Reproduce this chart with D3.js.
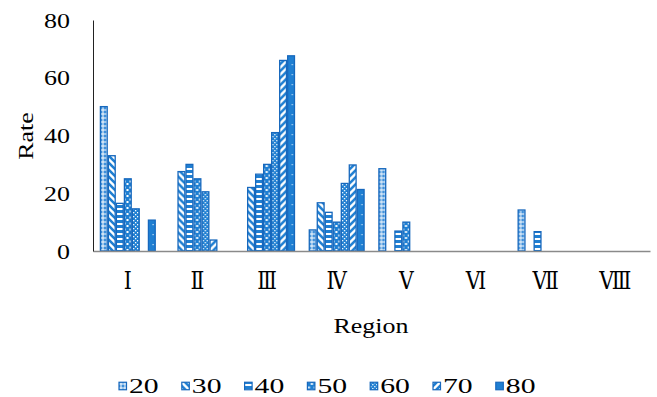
<!DOCTYPE html>
<html>
<head>
<meta charset="utf-8">
<script src="https://cdn.jsdelivr.net/npm/d3@7"></script>
<style>
  html, body { margin: 0; padding: 0; background: #fff; }
  svg { display: block; }
  svg text { font-family: "Liberation Serif", "Times New Roman", Tinos, "DejaVu Serif", serif; fill: #000; }
</style>
</head>
<body>
<svg id="chart" width="657" height="397"></svg>
<script>
// Regions along the x axis and the seven rate series per region
const regions = ["Ⅰ", "Ⅱ", "Ⅲ", "Ⅳ", "Ⅴ", "Ⅵ", "Ⅶ", "Ⅷ"];
const seriesNames = ["20", "30", "40", "50", "60", "70", "80"];
const s20 = [50, null, null, 7.3, 28.5, null, 14.2, null];
const s30 = [33, 27.5, 22, 16.7, null, null, null, null];
const s40 = [16.5, 30, 26.6, 13.4, 6.9, null, 6.7, null];
const s50 = [25, 25, 30, 10, 10, null, null, null];
const s60 = [14.6, 20.5, 41, 23.4, null, null, null, null];
const s70 = [null, 3.8, 66, 29.8, null, null, null, null];
const s80 = [10.7, null, 67.6, 21.3, null, null, null, null];
const seriesValues = [s20, s30, s40, s50, s60, s70, s80];
const yTicks = [0, 20, 40, 60, 80];

const BLUE = "#1f7fd2";
const EDGE = "#1768bd";
const FONT = "'Liberation Serif', 'Times New Roman', Tinos, 'DejaVu Serif', serif";
const WIDE = 1.18;   // horizontal widening of the serif lettering

const svg = d3.select("#chart");
const defs = svg.append("defs");

// Fill patterns, one per series
function pat(id, w, h, draw) {
  const p = defs.append("pattern").attr("id", id)
    .attr("patternUnits", "userSpaceOnUse").attr("width", w).attr("height", h);
  draw(p);
}
// 20: fine plaid
pat("p0", 4, 4, p => {
  p.append("rect").attr("width", 4).attr("height", 4).attr("fill", "#3f90da");
  p.append("rect").attr("x", 0).attr("y", 1.5).attr("width", 4).attr("height", 1).attr("fill", "#fff");
  p.append("rect").attr("x", 1.5).attr("y", 0).attr("width", 1).attr("height", 4).attr("fill", "#fff");
});
// 30: wide downward diagonal
pat("p1", 7, 7, p => {
  p.append("rect").attr("width", 7).attr("height", 7).attr("fill", "#fff");
  p.append("path").attr("d", "M-2,-2 L9,9 M-2,5 L2,9 M5,-2 L9,2")
    .attr("stroke", BLUE).attr("stroke-width", 2.6);
});
// 40: wide horizontal
pat("p2", 5, 5, p => {
  p.append("rect").attr("width", 5).attr("height", 5).attr("fill", "#fff");
  p.append("rect").attr("y", 0).attr("width", 5).attr("height", 3).attr("fill", BLUE);
});
// 50: large confetti
pat("p3", 6, 6, p => {
  p.append("rect").attr("width", 6).attr("height", 6).attr("fill", BLUE);
  p.append("rect").attr("x", 0.5).attr("y", 0.5).attr("width", 2).attr("height", 2).attr("fill", "#fff");
  p.append("rect").attr("x", 3.5).attr("y", 3).attr("width", 2).attr("height", 2).attr("fill", "#fff");
});
// 60: dotted diamond
pat("p4", 4, 4, p => {
  p.append("rect").attr("width", 4).attr("height", 4).attr("fill", BLUE);
  p.append("rect").attr("x", 0).attr("y", 0).attr("width", 1.3).attr("height", 1.3).attr("fill", "#fff");
  p.append("rect").attr("x", 2).attr("y", 2).attr("width", 1.3).attr("height", 1.3).attr("fill", "#fff");
});
// 70: wide upward diagonal
pat("p5", 7, 7, p => {
  p.append("rect").attr("width", 7).attr("height", 7).attr("fill", "#fff");
  p.append("path").attr("d", "M-2,9 L9,-2 M-2,2 L2,-2 M5,9 L9,5")
    .attr("stroke", BLUE).attr("stroke-width", 2.6);
});
// 80: solid with sparse dots
pat("p6", 8, 10, p => {
  p.append("rect").attr("width", 8).attr("height", 10).attr("fill", BLUE);
  p.append("rect").attr("x", 3.5).attr("y", 4).attr("width", 1.2).attr("height", 1.2).attr("fill", "#cfe4f7");
});

// Scales
const x0 = d3.scaleBand().domain(regions).range([93, 650]).padding(0);
const inset = 6.8;
const x1 = d3.scaleBand().domain(seriesNames).range([inset, x0.bandwidth() - inset]).padding(0);
const y = d3.scaleLinear().domain([0, 80]).range([251, 20]);

// Bars
const groups = svg.append("g").selectAll("g")
  .data(regions)
  .join("g")
  .attr("transform", r => `translate(${x0(r)},0)`);

groups.selectAll("rect")
  .data((r, ri) => seriesNames.map((s, si) => ({ s, si, v: seriesValues[si][ri] }))
    .filter(d => d.v != null))
  .join("rect")
  .attr("x", d => x1(d.s) + 0.6)
  .attr("y", d => y(d.v))
  .attr("width", x1.bandwidth() - 1.2)
  .attr("height", d => y(0) - y(d.v))
  .attr("fill", d => `url(#p${d.si})`)
  .attr("stroke", EDGE)
  .attr("stroke-width", 1.3);

// X axis line and category labels
const xAxis = d3.axisBottom(x0).tickSize(0).tickPadding(21);
const gx = svg.append("g").attr("transform", `translate(0,${y(0)})`).call(xAxis);
gx.attr("font-family", null);
gx.select(".domain").attr("stroke", "#8a8a8a").attr("stroke-width", 1.5);
gx.selectAll("text").attr("font-size", 24).style("font-family", FONT).attr("fill", "#000")
  .attr("transform", "scale(0.85,1)");

// Y axis
const yPad = 23;
const yAxis = d3.axisLeft(y).tickValues(yTicks).tickSize(0).tickPadding(yPad);
const gy = svg.append("g").attr("transform", `translate(93,0)`).call(yAxis);
gy.attr("font-family", null);
gy.select(".domain").attr("stroke", "#222").attr("stroke-width", 1);
gy.selectAll("text").attr("font-size", 22).style("font-family", FONT).attr("fill", "#000")
  .attr("x", -yPad / WIDE).attr("transform", `scale(${WIDE},1)`);

// Axis titles
svg.append("text").attr("transform", `translate(33,136) rotate(-90) scale(${WIDE},1)`)
  .attr("text-anchor", "middle").attr("font-size", 22).style("font-family", FONT).text("Rate");
svg.append("text").attr("transform", `translate(371,333) scale(${WIDE},1)`)
  .attr("text-anchor", "middle").attr("font-size", 22).style("font-family", FONT).text("Region");

// Legend
const legend = svg.append("g").selectAll("g")
  .data(seriesNames)
  .join("g")
  .attr("transform", (d, i) => `translate(${119 + i * 62.8},386)`);
legend.append("rect")
  .attr("x", 0).attr("y", -3.75).attr("width", 7.5).attr("height", 7.5)
  .attr("fill", (d, i) => `url(#p${i})`)
  .attr("stroke", EDGE).attr("stroke-width", 1.2);
legend.append("text")
  .attr("transform", `translate(10,6.5) scale(1.35,1)`)
  .attr("font-size", 22).style("font-family", FONT).text(d => d);
</script>
</body>
</html>
